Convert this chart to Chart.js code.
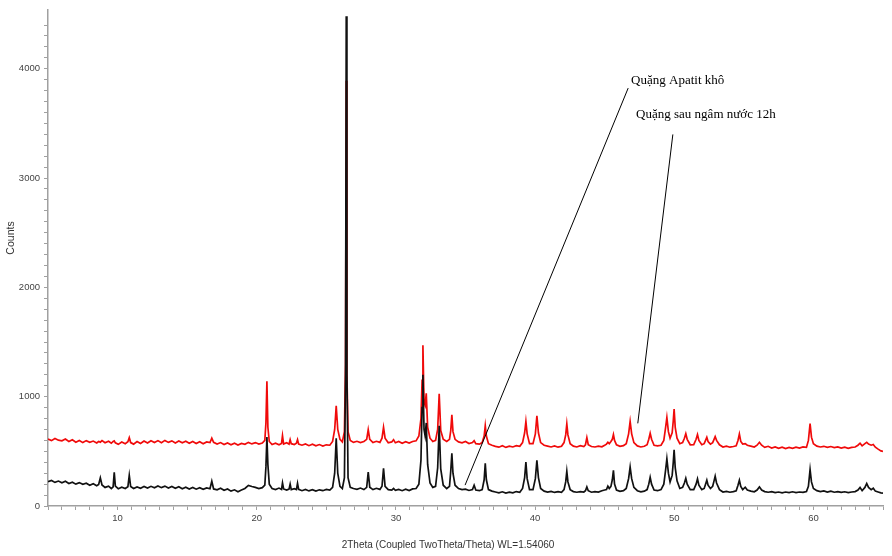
<!DOCTYPE html>
<html>
<head>
<meta charset="utf-8">
<script src="https://cdn.jsdelivr.net/npm/chart.js@4.4.1/dist/chart.umd.min.js"></script>
<style>
  html, body { margin: 0; padding: 0; background: #fff; }
  canvas { display: block; }
</style>
</head>
<body>
<canvas id="xrd" width="892" height="556"></canvas>
<script>
// Góc 2Theta (độ)
const twoTheta = [
  5.00,5.25,5.50,5.75,6.00,6.25,6.50,6.75,7.00,7.25,
  7.50,7.75,8.00,8.25,8.50,8.64,8.76,8.88,9.10,9.35,
  9.55,9.68,9.76,9.84,10.05,10.30,10.55,10.74,10.84,10.94,
  11.15,11.40,11.65,11.90,12.15,12.40,12.65,12.90,13.15,13.40,
  13.65,13.90,14.15,14.40,14.65,14.90,15.15,15.40,15.65,15.90,
  16.15,16.40,16.64,16.77,16.90,17.15,17.40,17.65,17.90,18.15,
  18.40,18.65,18.90,19.15,19.40,19.65,19.90,20.15,20.40,20.58,
  20.66,20.73,20.80,20.90,21.10,21.35,21.60,21.78,21.85,21.93,
  22.15,22.32,22.40,22.48,22.70,22.85,22.93,23.01,23.25,23.50,
  23.75,24.00,24.25,24.50,24.75,25.00,25.25,25.45,25.60,25.71,
  25.82,25.98,26.15,26.30,26.38,26.43,26.48,26.56,26.72,26.95,
  27.20,27.45,27.70,27.90,28.01,28.12,28.35,28.60,28.85,29.00,
  29.11,29.22,29.45,29.70,29.83,29.96,30.20,30.45,30.70,30.95,
  31.20,31.45,31.65,31.80,31.88,31.94,32.02,32.10,32.18,32.28,
  32.45,32.65,32.85,33.00,33.11,33.22,33.40,33.65,33.85,33.94,
  34.02,34.10,34.25,34.50,34.75,35.00,35.25,35.50,35.62,35.74,
  36.00,36.20,36.34,36.42,36.50,36.65,36.90,37.15,37.40,37.65,
  37.90,38.15,38.40,38.65,38.90,39.10,39.25,39.34,39.43,39.60,
  39.85,40.02,40.13,40.24,40.40,40.65,40.90,41.15,41.40,41.65,
  41.90,42.08,42.20,42.28,42.36,42.52,42.75,43.00,43.25,43.50,
  43.62,43.72,43.82,44.05,44.30,44.55,44.80,45.00,45.13,45.23,
  45.33,45.45,45.55,45.63,45.71,45.85,46.10,46.35,46.55,46.72,
  46.83,46.94,47.10,47.35,47.60,47.85,48.05,48.17,48.27,48.37,
  48.55,48.80,49.05,49.25,49.38,49.47,49.58,49.70,49.85,49.93,
  49.99,50.07,50.20,50.40,50.60,50.73,50.83,50.93,51.15,51.40,
  51.57,51.67,51.77,51.98,52.15,52.25,52.34,52.43,52.60,52.76,
  52.86,52.94,53.04,53.25,53.50,53.75,54.00,54.25,54.45,54.58,
  54.68,54.78,54.92,55.10,55.25,55.50,55.75,55.95,56.12,56.28,
  56.50,56.75,57.00,57.25,57.50,57.75,58.00,58.25,58.50,58.75,
  59.00,59.25,59.50,59.64,59.76,59.86,60.00,60.25,60.50,60.75,
  61.00,61.25,61.50,61.75,62.00,62.25,62.50,62.75,63.00,63.20,
  63.35,63.50,63.70,63.83,63.96,64.15,64.30,64.45,64.65,64.85,
  65.00
]

// Quặng Apatit khô (đường đen)
const countsDry = [
  222,234,216,228,212,226,206,218,200,214,
  198,208,190,204,186,198,257,192,170,182,
  160,176,308,182,158,172,160,176,281,178,
  160,174,162,178,164,180,166,184,168,182,
  164,178,162,176,158,172,156,170,154,168,
  152,166,158,227,156,148,162,144,156,136,
  148,130,146,160,188,178,170,160,168,190,
  360,630,380,200,160,150,164,152,211,156,
  146,154,200,150,158,150,208,152,140,152,
  138,150,136,148,140,152,146,170,300,620,
  300,180,160,260,1200,4480,1200,260,170,160,
  152,164,150,170,311,172,150,162,152,180,
  344,180,150,146,160,144,152,140,154,142,
  156,160,200,420,900,1200,700,640,760,380,
  210,170,180,350,734,340,190,160,180,320,
  483,300,190,160,150,154,142,150,190,146,
  140,150,240,390,240,150,136,128,120,130,
  118,126,120,132,126,160,260,402,250,150,
  150,250,417,260,160,136,128,134,124,132,
  126,150,220,317,220,150,132,126,132,128,
  140,175,140,126,132,128,140,146,150,181,
  160,180,240,326,200,146,134,140,160,250,
  356,250,170,140,130,136,150,200,263,200,
  146,140,150,200,330,431,300,220,280,400,
  514,350,230,160,170,210,254,200,150,150,
  200,248,190,150,160,200,236,190,160,180,
  230,272,210,150,128,134,126,132,140,190,
  236,180,150,172,146,136,130,146,175,146,
  132,126,132,122,128,120,128,122,130,122,
  128,124,132,180,333,220,160,140,132,138,
  128,136,126,132,124,130,122,128,132,146,
  169,140,170,206,170,150,163,136,128,120,
  118
]

// Quặng sau ngâm nước 12h (đường đỏ)
const countsSoaked = [
  612,598,618,602,596,612,590,606,584,600,
  580,598,582,594,576,590,584,598,578,592,
  574,590,596,578,564,586,570,588,625,580,
  566,590,572,594,576,596,580,598,578,600,
  582,596,576,594,578,592,574,590,572,588,
  570,586,580,620,582,566,580,562,576,560,
  574,558,572,564,582,568,580,566,576,600,
  760,1142,720,590,562,574,560,572,643,566,
  578,566,607,570,562,574,607,566,556,568,
  552,566,550,562,548,560,556,590,700,916,
  700,610,586,680,1300,3890,1200,680,600,582,
  592,580,590,610,698,610,580,592,582,620,
  719,620,578,586,607,578,590,574,588,576,
  590,596,640,800,1150,1470,950,920,1030,720,
  620,590,600,700,1027,690,610,590,610,690,
  834,680,610,586,578,590,572,580,598,570,
  566,580,640,734,640,570,556,546,538,552,
  536,548,540,552,546,580,670,773,660,570,
  570,660,825,670,580,556,548,540,550,538,
  546,580,650,750,650,570,548,540,552,544,
  560,625,560,544,540,548,542,556,566,583,
  570,590,610,653,600,560,546,552,570,660,
  773,660,580,550,540,546,560,610,665,610,
  556,550,556,600,720,810,680,620,670,780,
  886,720,620,570,580,620,662,610,560,562,
  610,653,600,560,570,600,628,590,566,580,
  610,635,600,560,540,548,538,544,550,600,
  659,590,566,570,556,548,540,556,583,556,
  536,546,530,540,528,538,526,536,528,538,
  530,540,536,600,755,630,570,548,540,546,
  536,544,534,540,530,538,528,536,540,556,
  574,550,570,583,566,556,562,538,520,504,
  500
]

// Chú thích: chữ và đường dẫn (tọa độ theo trục dữ liệu)
const labelTexts = ['Quặng Apatit khô', 'Quặng sau ngâm nước 12h']
const labelAt = [[46.9, 3895], [47.26, 3578]]
const leaderFrom = [[46.69, 3823], [49.90, 3399]]
const leaderTo = [[34.97, 191], [47.38, 756]]

const xTitle = '2Theta (Coupled TwoTheta/Theta) WL=1.54060'
const yTitle = 'Counts'

const toPoints = (ys) => twoTheta.map((x, i) => ({ x: x, y: ys[i] }))

const axisColor = '#a0a0a0'
const tickFont = { family: 'Liberation Sans, Arial, sans-serif', size: 9.5 }

const annotations = {
  id: 'annotations',
  afterDraw(chart) {
    const ctx = chart.ctx
    const xs = chart.scales.x
    const ys = chart.scales.y
    ctx.save()
    // đường dẫn
    ctx.strokeStyle = '#000'
    ctx.lineWidth = 1
    for (let i = 0; i < leaderFrom.length; i++) {
      ctx.beginPath()
      ctx.moveTo(xs.getPixelForValue(leaderFrom[i][0]), ys.getPixelForValue(leaderFrom[i][1]))
      ctx.lineTo(xs.getPixelForValue(leaderTo[i][0]), ys.getPixelForValue(leaderTo[i][1]))
      ctx.stroke()
    }
    ctx.fillStyle = '#000'
    ctx.font = '13px "Liberation Serif", "Times New Roman", serif'
    ctx.textAlign = 'left'
    ctx.textBaseline = 'middle'
    for (let i = 0; i < labelTexts.length; i++) {
      ctx.fillText(labelTexts[i], xs.getPixelForValue(labelAt[i][0]), ys.getPixelForValue(labelAt[i][1]))
    }
    // tiêu đề trục
    ctx.fillStyle = '#333'
    ctx.font = '10px "Liberation Sans", Arial, sans-serif'
    ctx.textAlign = 'center'
    ctx.fillText(xTitle, 448, 545)
    ctx.font = '10.5px "Liberation Sans", Arial, sans-serif'
    ctx.translate(11, 238)
    ctx.rotate(-Math.PI / 2)
    ctx.fillText(yTitle, 0, 0)
    ctx.restore()
  }
}

new Chart(document.getElementById('xrd'), {
  type: 'line',
  data: {
    datasets: [{
      label: 'Quặng Apatit khô',
      data: toPoints(countsDry),
      borderColor: '#111',
      borderWidth: 1.7,
      pointRadius: 0,
      tension: 0
    }, {
      label: 'Quặng sau ngâm nước 12h',
      data: toPoints(countsSoaked),
      borderColor: '#f00a0a',
      borderWidth: 1.7,
      pointRadius: 0,
      tension: 0
    }]
  },
  options: {
    responsive: false,
    animation: false,
    devicePixelRatio: 1,
    layout: { padding: { top: 6, right: 9, left: 0, bottom: 0 } },
    plugins: { legend: { display: false }, tooltip: { enabled: false } },
    scales: {
      x: {
        type: 'linear',
        min: 5,
        max: 65,
        afterFit: (s) => { s.height = 50 },
        afterBuildTicks: (s) => { s.ticks = s.ticks.filter(t => Number.isInteger(t.value)) },
        ticks: {
          stepSize: 1,
          autoSkip: false,
          maxRotation: 0,
          padding: 3,
          color: '#444',
          font: tickFont,
          callback: (v) => (v % 10 === 0 ? v : '')
        },
        grid: { drawOnChartArea: false, tickLength: 4, tickColor: axisColor },
        border: { color: axisColor, width: 1.5 }
      },
      y: {
        min: 0,
        max: 4540,
        afterFit: (s) => { s.width = 48 },
        afterBuildTicks: (s) => { s.ticks = s.ticks.filter(t => t.value % 100 === 0) },
        ticks: {
          stepSize: 100,
          autoSkip: false,
          padding: 4,
          color: '#444',
          font: tickFont,
          callback: (v) => (v % 1000 === 0 ? v : '')
        },
        grid: { drawOnChartArea: false, tickLength: 4, tickColor: axisColor },
        border: { color: axisColor, width: 1.5 }
      }
    }
  },
  plugins: [annotations]
})
</script>
</body>
</html>
